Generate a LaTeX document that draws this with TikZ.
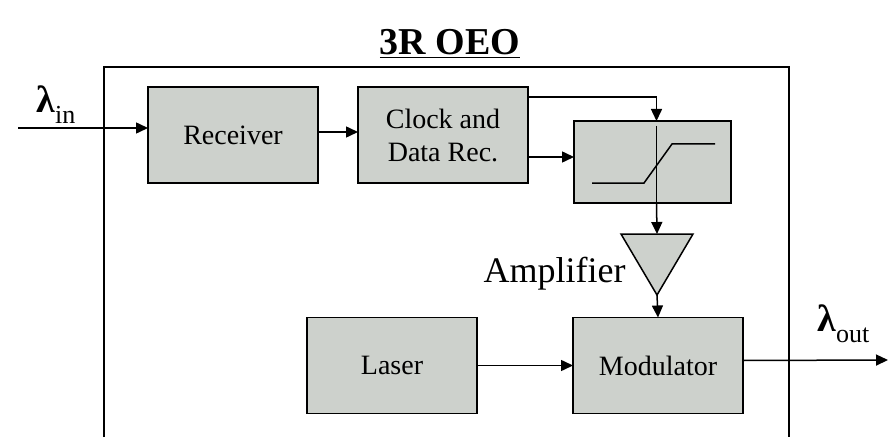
\documentclass[tikz,border=0pt]{standalone}
\usepackage{fontspec}
\setmainfont{Liberation Serif}
\usetikzlibrary{positioning,arrows.meta}
\definecolor{boxgray}{RGB}{205,209,204}
\tikzset{
    block/.style={draw,rectangle,fill=boxgray,line width=1.5pt,inner sep=0pt,outer sep=0pt,
        minimum width=170pt,minimum height=96pt,align=center,font=\fontsize{28}{33}\selectfont},
    link/.style={line width=1.5pt,->},
    lambda/.style={anchor=base west,font=\bfseries\fontsize{38}{38}\selectfont}
}
\begin{document}
\begin{tikzpicture}[x=1pt,y=1pt,>={Triangle[length=12pt,width=11pt]}]
    \useasboundingbox (0,0) rectangle (890,437);

    \node[font=\bfseries\fontsize{38}{38}\selectfont,anchor=base] (title) at (450,382) {\underline{3R OEO}};
    \draw[line width=1.5pt] (104,0) -- (104,370) -- (789,370) -- (789,0);

    \node[block] (rx) at (233,302) {Receiver};
    \node[block,right=40pt of rx] (cdr) {Clock and\\Data Rec.};
    \node[block,minimum width=157pt,minimum height=82pt] (dec) at (652.5,275) {};
    \node[block] (laser) at (392,71.5) {Laser};
    \node[block,right=96pt of laser] (mod) {Modulator};

    % decision circuit
    \draw[line width=1.5pt] ([xshift=4pt,yshift=-5pt]dec.north) -- ([xshift=4pt]dec.south);
    \draw[line width=1.5pt] (592,254) -- (644,254) -- (672,293) -- (715,293);

    % amplifier
    \coordinate (amptop) at (657,203);
    \coordinate (ampapex) at (657,142);
    \filldraw[fill=boxgray,line width=1.5pt,line join=miter] (621,203) -- (693,203) -- (ampapex) -- cycle;
    \node[anchor=base east,font=\fontsize{36}{36}\selectfont] (amplabel) at (629,155) {Amplifier};

    \node[lambda] (lin) at (33,324) {λ\raisebox{-11pt}{\mdseries\fontsize{26}{26}\selectfont in}};
    \node[lambda] (lout) at (814,106) {λ\raisebox{-11pt}{\mdseries\fontsize{26}{26}\selectfont out}};

    \coordinate (in) at (18,309);
    \coordinate (out) at (888,77);
    \draw[link] (in) -- (in -| rx.west);
    \draw[link] ([yshift=3pt]rx.east) -- ([yshift=3pt]cdr.west);
    \draw[link] ([yshift=38pt]cdr.east) -| ([xshift=4pt]dec.north);
    \draw[link] ([yshift=-22pt]cdr.east) -- ([yshift=-22pt]cdr.east -| dec.west);
    \draw[link] ([xshift=4pt]dec.south) -- (amptop);
    \draw[link] (ampapex) -- (mod.north);
    \draw[link] (laser) -- (mod);
    \draw[link] ([yshift=5pt]mod.east) -- (out);
\end{tikzpicture}
\end{document}
